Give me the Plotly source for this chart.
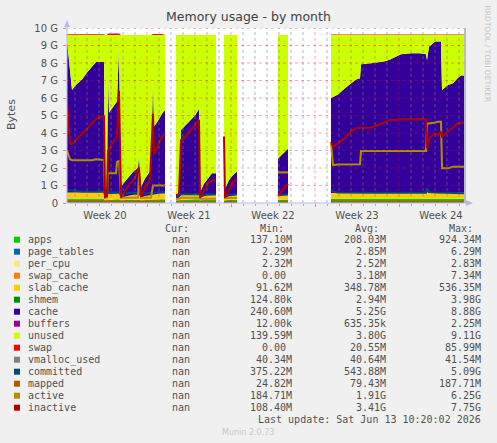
from datetime import datetime, timedelta

import plotly.graph_objects as go

# A row whose values are all None marks a stretch with no data.
times = [
    # May 11 - May 19
    "2026-05-11 08:00", "2026-05-11 14:00", "2026-05-11 18:00", "2026-05-12 02:00", "2026-05-12 14:00",
    "2026-05-13 00:00", "2026-05-13 10:00", "2026-05-13 18:00", "2026-05-14 04:00", "2026-05-14 10:00",
    "2026-05-14 12:00", "2026-05-14 16:00", "2026-05-14 18:00", "2026-05-14 20:00", "2026-05-15 02:00",
    "2026-05-15 10:00", "2026-05-15 12:00", "2026-05-15 16:00", "2026-05-15 20:00", "2026-05-16 06:00",
    "2026-05-16 14:00", "2026-05-16 22:00", "2026-05-17 06:00", "2026-05-17 08:00", "2026-05-17 12:00",
    "2026-05-17 20:00", "2026-05-18 06:00", "2026-05-18 08:00", "2026-05-18 12:00", "2026-05-18 14:00",
    "2026-05-18 22:00", "2026-05-19 06:00", "2026-05-19 12:00",
    "2026-05-20 00:00",
    # May 20 - May 23
    "2026-05-20 10:00", "2026-05-20 16:00", "2026-05-20 20:00", "2026-05-21 04:00", "2026-05-21 14:00",
    "2026-05-22 00:00", "2026-05-22 08:00", "2026-05-22 10:00", "2026-05-22 18:00", "2026-05-23 02:00",
    "2026-05-23 10:00", "2026-05-23 18:00",
    "2026-05-24 02:00",
    # May 24 - May 25
    "2026-05-24 10:00", "2026-05-24 12:00", "2026-05-24 20:00", "2026-05-25 04:00", "2026-05-25 12:00",
    "2026-05-27 00:00",
    # May 28 - May 29
    "2026-05-28 22:00", "2026-05-29 08:00", "2026-05-29 18:00",
    "2026-05-31 00:00",
    # Jun 2 - Jun 13
    "2026-06-02 08:00", "2026-06-02 12:00", "2026-06-02 22:00", "2026-06-03 12:00", "2026-06-04 00:00",
    "2026-06-04 10:00", "2026-06-04 18:00", "2026-06-04 20:00", "2026-06-05 16:00", "2026-06-06 06:00",
    "2026-06-06 20:00", "2026-06-07 06:00", "2026-06-07 20:00", "2026-06-08 04:00", "2026-06-09 00:00",
    "2026-06-09 18:00", "2026-06-10 06:00", "2026-06-10 08:00", "2026-06-10 12:00", "2026-06-11 00:00",
    "2026-06-11 06:00", "2026-06-11 12:00", "2026-06-11 14:00", "2026-06-12 02:00", "2026-06-12 12:00",
    "2026-06-12 22:00", "2026-06-13 04:00", "2026-06-13 10:00",
]

N = None

apps = [
    .22, .22, .22, .22, .23, .23, .23, .23, .22, .22, .15, .16, .20, .20, .20, .21, .21, .21, .15, .17,
    .18, .19, .19, .19, .15, .17, .18, .18, .20, .20, .21, .21, .21,
    N,
    .15, .16, .20, .20, .20, .21, .21, .15, .18, .19, .19, .19,
    N,
    .16, .15, .18, .19, .19,
    N,
    .19, .20, .20,
    N,
    .24, .24, .24, .24, .25, .25, .25, .25, .25, .25, .25, .25, .25, .25, .25, .25, .25, .25, .25, .25,
    .25, .25, .24, .24, .24, .24, .24, .24,
]
page_tables = [
    .0028, .0028, .0028, .0028, .0028, .0028, .0028, .0028, .0028, .0028, .0023, .0023, .0027, .0027,
    .0027, .0027, .0027, .0027, .0023, .0025, .0025, .0025, .0025, .0025, .0023, .0025, .0025, .0025,
    .0027, .0027, .0027, .0027, .0027,
    N,
    .0023, .0023, .0026, .0026, .0027, .0027, .0027, .0023, .0025, .0025, .0025, .0025,
    N,
    .0023, .0023, .0025, .0025, .0025,
    N,
    .0026, .0026, .0026,
    N,
    .0030, .0030, .0030, .0030, .0030, .0030, .0030, .0030, .0030, .0030, .0030, .0030, .0030, .0030,
    .0030, .0030, .0030, .0030, .0030, .0030, .0030, .0030, .0029, .0029, .0029, .0029, .0029, .0029,
]
per_cpu = [
    .0026, .0026, .0026, .0026, .0026, .0026, .0026, .0026, .0026, .0026, .0024, .0024, .0026, .0026,
    .0026, .0026, .0026, .0026, .0024, .0025, .0025, .0025, .0025, .0025, .0024, .0025, .0025, .0025,
    .0026, .0026, .0026, .0026, .0026,
    N,
    .0024, .0024, .0025, .0025, .0025, .0025, .0025, .0024, .0025, .0025, .0025, .0025,
    N,
    .0024, .0024, .0025, .0025, .0025,
    N,
    .0025, .0025, .0025,
    N,
    .0027, .0027, .0027, .0027, .0027, .0027, .0027, .0027, .0027, .0027, .0027, .0027, .0027, .0027,
    .0027, .0027, .0027, .0027, .0027, .0027, .0027, .0027, .0027, .0027, .0027, .0027, .0027, .0027,
]
swap_cache = [
    .005, .005, .005, .005, .005, .005, .005, .005, .005, .005, 0, 0, .006, .006, .006, .006, .006, .006,
    0, 0, 0, 0, 0, 0, 0, 0, 0, 0, .004, .004, .004, .004, .004,
    N,
    0, 0, 0, 0, 0, 0, 0, 0, 0, 0, 0, 0,
    N,
    0, 0, 0, 0, 0,
    N,
    0, 0, 0,
    N,
    .003, .003, .003, .003, .003, .003, .003, .003, .003, .003, .003, .003, .003, .003,
    .003, .003, .003, .003, .003, .003, .003, .003, .003, .003, .003, .003, .003, .003,
]
slab_cache = [
    .36, .36, .36, .37, .38, .37, .36, .37, .38, .38, .15, .18, .30, .30, .30, .31, .31, .32, .15, .22,
    .25, .27, .28, .28, .16, .22, .26, .27, .30, .30, .31, .32, .32,
    N,
    .12, .14, .25, .26, .27, .28, .28, .14, .20, .23, .25, .25,
    N,
    .15, .14, .20, .23, .24,
    N,
    .22, .24, .25,
    N,
    .32, .33, .33, .33, .33, .34, .34, .34, .34, .34, .35, .35, .35, .35, .35, .35, .35, .35, .36, .36,
    .36, .36, .34, .34, .34, .35, .35, .35,
]
shmem = [
    .003, .003, .003, .003, .003, .003, .003, .003, .003, .003, .001, .001, .003, .003, .003, .003, .003,
    .003, .001, .002, .002, .002, .002, .002, .001, .002, .002, .002, .003, .003, .003, .003, .003,
    N,
    .001, .001, .002, .002, .002, .002, .002, .001, .002, .002, .002, .002,
    N,
    .001, .001, .002, .002, .002,
    N,
    .002, .002, .002,
    N,
    .003, .003, .003, .003, .003, .003, .003, .003, .003, .003, .003, .003, .003, .003,
    .003, .003, .003, .003, .003, .003, .003, .003, .003, .003, .003, .003, .003, .003,
]
cache = [
    8.71, 6.81, 5.87, 6.15, 6.43, 6.84, 7.20, 7.44, 7.46, 7.46, 0.49, 0.55, 6.89, 4.64, 4.89, 5.17, 5.27,
    8.36, 0.64, 0.90, 1.16, 1.38, 1.52, 2.27, 0.58, 1.00, 1.35, 1.54, 6.49, 3.85, 4.17, 4.56, 4.77,
    N,
    0.22, 0.24, 3.71, 3.93, 4.22, 4.50, 4.87, 0.30, 0.71, 0.97, 1.25, 1.25,
    N,
    0.38, 0.50, 0.91, 1.17, 1.36,
    N,
    2.13, 2.35, 2.64,
    N,
    5.43, 5.47, 5.62, 5.97, 6.26, 6.45, 6.52, 7.32, 7.38, 7.42, 7.49, 7.59, 7.79, 7.89, 7.94, 7.94, 7.89,
    7.56, 8.31, 8.60, 8.60, 8.60, 5.87, 6.15, 6.25, 6.56, 6.68, 6.68,
]
buffers = [
    .0007, .0007, .0007, .0007, .0007, .0007, .0007, .0007, .0007, .0007, .0002, .0002, .0006, .0006,
    .0006, .0006, .0006, .0006, .0002, .0004, .0004, .0004, .0004, .0004, .0002, .0004, .0004, .0004,
    .0006, .0006, .0006, .0006, .0006,
    N,
    .0002, .0002, .0005, .0005, .0005, .0005, .0005, .0002, .0004, .0004, .0004, .0004,
    N,
    .0002, .0002, .0004, .0004, .0004,
    N,
    .0005, .0005, .0005,
    N,
    .0008, .0008, .0008, .0008, .0008, .0008, .0008, .0008, .0008, .0008, .0008, .0008, .0008, .0008,
    .0008, .0008, .0008, .0008, .0008, .0008, .0008, .0008, .0008, .0008, .0008, .0008, .0008, .0008,
]
unused = [
    0.30, 2.20, 3.14, 2.85, 2.55, 2.15, 1.80, 1.55, 1.53, 1.53, 8.80, 8.70, 2.20, 4.45, 4.20, 3.90, 3.80,
    0.70, 8.65, 8.30, 8.00, 7.75, 7.60, 6.85, 8.70, 8.20, 7.80, 7.60, 2.60, 5.24, 4.90, 4.50, 4.29,
    N,
    9.10, 9.05, 5.43, 5.20, 4.90, 4.60, 4.23, 9.00, 8.50, 8.20, 7.90, 7.90,
    N,
    8.90, 8.80, 8.30, 8.00, 7.80,
    N,
    7.05, 6.80, 6.50,
    N,
    3.60, 3.55, 3.40, 3.05, 2.75, 2.55, 2.48, 1.68, 1.62, 1.58, 1.50, 1.40, 1.20, 1.10, 1.05, 1.05, 1.10,
    1.43, 0.67, 0.38, 0.38, 0.38, 3.14, 2.86, 2.76, 2.44, 2.32, 2.32,
]
swap = [
    .04, .04, .04, .04, .04, .04, .04, .04, .04, .04, 0, 0, .08, .08, .08, .08, .08, .08, 0, 0,
    0, 0, 0, 0, 0, 0, 0, 0, .06, .06, .06, .06, 0,
    N,
    0, 0, 0, 0, 0, 0, 0, 0, 0, 0, 0, 0,
    N,
    0, 0, 0, 0, 0,
    N,
    0, 0, 0,
    N,
    .02, .02, .02, .02, .02, .02, .02, .02, .02, .02, .02, .02, .02, .02,
    .02, .02, .02, .02, .02, .02, .02, .02, .02, .02, .02, .02, .02, .02,
]
vmalloc_used = [
    .0406, .0406, .0406, .0406, .0406, .0406, .0406, .0406, .0406, .0406, .0403, .0403, .0405, .0405,
    .0405, .0405, .0405, .0405, .0403, .0404, .0404, .0404, .0404, .0404, .0403, .0404, .0404, .0404,
    .0405, .0405, .0405, .0405, .0405,
    N,
    .0403, .0403, .0405, .0405, .0405, .0405, .0405, .0403, .0404, .0404, .0404, .0404,
    N,
    .0403, .0403, .0404, .0404, .0404,
    N,
    .0404, .0404, .0404,
    N,
    .0407, .0407, .0407, .0407, .0407, .0407, .0407, .0407, .0407, .0407, .0407, .0407, .0407, .0407,
    .0407, .0407, .0407, .0407, .0407, .0407, .0407, .0407, .0407, .0407, .0407, .0407, .0407, .0407,
]
committed = [
    .75, .72, .70, .68, .66, .65, .66, .65, .64, .64, .45, .48, .60, .60, .60, .61, .61, .62, .45, .55,
    .58, .60, .60, .60, .47, .55, .58, .58, .62, .62, .62, .63, .63,
    N,
    .40, .42, .50, .50, .51, .52, .52, .42, .48, .50, .50, .50,
    N,
    .45, .42, .48, .50, .50,
    N,
    .46, .47, .48,
    N,
    .72, .66, .60, .59, .59, .59, .59, .59, .59, .59, .59, .59, .59, .59, .59, .59, .59, .85, .62, .60,
    .60, .60, .56, .56, .56, .56, .56, .56,
]
mapped = [
    .09, .09, .09, .09, .09, .09, .09, .09, .09, .09, .05, .05, .08, .08, .08, .08, .08, .08, .05, .06,
    .06, .06, .06, .06, .05, .06, .06, .06, .07, .07, .07, .07, .07,
    N,
    .05, .05, .06, .06, .06, .06, .06, .05, .05, .06, .06, .06,
    N,
    .05, .05, .05, .06, .06,
    N,
    .06, .06, .06,
    N,
    .07, .07, .07, .07, .07, .07, .07, .07, .07, .07, .07, .07, .07, .07, .07, .07, .07, .08, .08, .08,
    .08, .08, .07, .07, .07, .07, .07, .07,
]
active = [
    3.00, 2.50, 2.45, 2.45, 2.45, 2.45, 2.45, 2.50, 2.45, 2.45, 0.30, 0.30, 1.70, 1.70, 1.70, 1.70, 2.35,
    2.40, 0.30, 0.30, 0.30, 0.30, 0.30, 1.70, 0.30, 0.30, 0.30, 0.30, 1.00, 1.00, 1.00, 1.00, 1.00,
    N,
    0.25, 0.25, 0.30, 0.30, 0.30, 0.30, 0.30, 0.25, 0.25, 0.25, 0.25, 0.25,
    N,
    0.30, 0.28, 0.28, 0.28, 0.28,
    N,
    1.75, 1.75, 1.75,
    N,
    3.40, 2.17, 2.20, 2.20, 2.22, 2.22, 2.22, 2.97, 2.97, 2.97, 2.97, 2.97, 2.97, 2.97, 2.97, 2.97, 2.97,
    4.55, 4.55, 4.60, 4.65, 4.65, 1.98, 1.98, 2.07, 2.07, 2.07, 2.07,
]
inactive = [
    5.80, 3.40, 3.35, 3.60, 3.95, 4.30, 4.55, 4.80, 4.95, 4.95, 0.35, 0.40, 3.00, 3.05, 3.40, 3.70, 3.85,
    6.40, 0.30, 0.80, 1.10, 1.30, 1.95, 2.00, 0.35, 0.90, 1.30, 2.50, 5.10, 2.80, 3.30, 3.80, 3.90,
    N,
    0.45, 0.50, 3.60, 3.75, 4.10, 4.50, 4.75, 0.30, 0.70, 1.10, 1.30, 1.30,
    N,
    3.80, 0.30, 0.75, 1.20, 1.37,
    N,
    0.40, 0.75, 1.10,
    N,
    3.50, 3.22, 3.41, 3.70, 4.08, 4.27, 4.30, 4.30, 4.30, 4.46, 4.65, 4.74, 4.76, 4.78, 4.78, 4.78, 4.78,
    3.12, 3.70, 3.98, 3.88, 4.08, 3.79, 4.08, 4.30, 4.55, 4.59, 4.59,
]

y_tick_labels = ["0", "1 G", "2 G", "3 G", "4 G", "5 G", "6 G", "7 G", "8 G", "9 G", "10 G"]

legend_cur = ["nan"] * 15
legend_min = ["137.10M", "2.29M", "2.32M", "0.00\u00a0", "91.62M", "124.80k", "240.60M", "12.00k",
              "139.59M", "0.00\u00a0", "40.34M", "375.22M", "24.82M", "184.71M", "108.40M"]
legend_avg = ["208.03M", "2.85M", "2.52M", "3.18M", "348.78M", "2.94M", "5.25G", "635.35k",
              "3.80G", "20.55M", "40.64M", "543.88M", "79.43M", "1.91G", "3.41G"]
legend_max = ["924.34M", "6.29M", "2.83M", "7.34M", "536.35M", "3.98G", "8.88G", "2.25M",
              "9.11G", "85.99M", "41.54M", "5.09G", "187.71M", "6.25G", "7.75G"]

stacked = [
    ("apps", apps, "#00CC00"),
    ("page_tables", page_tables, "#0066B3"),
    ("per_cpu", per_cpu, "#FFE680"),
    ("swap_cache", swap_cache, "#FF8000"),
    ("slab_cache", slab_cache, "#FFCC00"),
    ("shmem", shmem, "#008F00"),
    ("cache", cache, "#330099"),
    ("buffers", buffers, "#990099"),
    ("unused", unused, "#CCFF00"),
    ("swap", swap, "#FF0000"),
]
lines = [
    ("vmalloc_used", vmalloc_used, "#808080"),
    ("committed", committed, "#00487D"),
    ("mapped", mapped, "#B35A00"),
    ("active", active, "#B38F00"),
    ("inactive", inactive, "#B30000"),
]

FONT = "DejaVu Sans"
MONO = "DejaVu Sans Mono"
TEXT = "#505050"
AXIS = "#B8B8EE"
W, H = 497, 443
L, R, T, B = 67, 465, 28, 203  # plot area, pixels
X_RANGE = ["2026-05-11 08:00", "2026-06-13 12:00"]


def xp(px):
    return (px - L) / (R - L)


def yp(py):
    return (B - py) / (B - T)


def runs():
    # contiguous stretches of rows holding data
    out, cur = [], []
    for i, v in enumerate(cache):
        if v is None:
            if cur:
                out.append(cur)
            cur = []
        else:
            cur.append(i)
    if cur:
        out.append(cur)
    return out


fig = go.Figure()

for k, idx in enumerate(runs()):
    for name, vals, color in stacked:
        fig.add_trace(go.Scatter(
            x=[times[i] for i in idx], y=[vals[i] for i in idx],
            name=name, stackgroup=f"seg{k}", mode="lines",
            line=dict(width=0, color=color), fillcolor=color,
            showlegend=False, hoverinfo="skip",
        ))

for name, vals, color in lines:
    fig.add_trace(go.Scatter(
        x=times, y=vals, name=name, mode="lines", connectgaps=False,
        line=dict(width=2, color=color), showlegend=False, hoverinfo="skip",
    ))

# grid on top of the areas, like rrdtool draws it
shapes = []
minor = dict(color="rgba(130,130,130,0.55)", width=1, dash="dot")
major = dict(color="rgba(255,0,0,0.35)", width=1, dash="dot")
for d in range(33):
    day = datetime(2026, 5, 12) + timedelta(days=d)
    shapes.append(dict(type="line", xref="x", yref="paper", x0=day, x1=day, y0=0, y1=1,
                       line=major if day.weekday() == 0 else minor, layer="above"))
for g in range(1, 11):
    shapes.append(dict(type="line", xref="paper", yref="y", x0=0, x1=1, y0=g, y1=g,
                       line=major, layer="above"))

# right edge, axis lines and arrow heads
shapes.append(dict(type="line", xref="paper", yref="paper", x0=1, x1=1, y0=0, y1=1,
                   line=dict(color="#A8A8A8", width=1.5), layer="above"))
shapes.append(dict(type="line", xref="paper", yref="paper", x0=0, x1=xp(468), y0=0, y1=0,
                   line=dict(color=AXIS, width=1), layer="above"))
shapes.append(dict(type="line", xref="paper", yref="paper", x0=0, x1=0, y0=0, y1=yp(24),
                   line=dict(color=AXIS, width=1), layer="above"))
shapes.append(dict(type="path", xref="paper", yref="paper", layer="above",
                   path=f"M {xp(466):.4f} {yp(200):.4f} L {xp(473):.4f} {yp(203):.4f} "
                        f"L {xp(466):.4f} {yp(206):.4f} Z",
                   fillcolor=AXIS, line=dict(width=0)))
shapes.append(dict(type="path", xref="paper", yref="paper", layer="above",
                   path=f"M {xp(64):.4f} {yp(27):.4f} L {xp(67):.4f} {yp(20):.4f} "
                        f"L {xp(70):.4f} {yp(27):.4f} Z",
                   fillcolor=AXIS, line=dict(width=0)))


def text(s, x, y, anchor="left", font=MONO, size=10, color=TEXT, angle=0):
    fig.add_annotation(x=xp(x), y=yp(y), xref="paper", yref="paper", text=s, showarrow=False,
                       xanchor=anchor, yanchor="middle", textangle=angle,
                       font=dict(family=font, size=size, color=color))


text("Memory usage - by month", 248.5, 17, "center", FONT, 12.5, "#404040")
text("Bytes", 11, 115, "center", FONT, 11, TEXT, -90)
text("RRDTOOL / TOBI OETIKER", 487.5, 54, "center", FONT, 7.5, "#C4C4C4", 90)

text("Cur:", 163, 228)
text("Min:", 258, 228)
text("Avg:", 352.7, 228)
text("Max:", 446.7, 228)

for i, (name, _, color) in enumerate(stacked + lines):
    py = 239.7 + 12 * i
    shapes.append(dict(type="rect", xref="paper", yref="paper", x0=xp(14), x1=xp(20),
                       y0=yp(py + 3), y1=yp(py - 3), fillcolor=color, line=dict(width=0)))
    text(name, 26.3, py)
    text(legend_cur[i], 192.3, py, "right")
    text(legend_min[i], 294, py, "right")
    text(legend_avg[i], 387.7, py, "right")
    text(legend_max[i], 482.7, py, "right")

text("Last update: Sat Jun 13 10:20:02 2026", 482.7, 419.5, "right")
text("Munin 2.0.73", 247.7, 432, "center", FONT, 8, "#C8C8C8")

fig.update_layout(
    width=W, height=H,
    margin=dict(l=L, r=W - R, t=T, b=H - B, pad=0),
    paper_bgcolor="#F0F0F0", plot_bgcolor="#FFFFFF",
    shapes=shapes, showlegend=False,
)
fig.update_xaxes(
    type="date", range=X_RANGE, tick0="2026-05-11", dtick=7 * 86400000,
    ticklabelmode="period", tickformat="Week %V",
    showgrid=False, zeroline=False, showline=False, fixedrange=True,
    ticks="outside", ticklen=3, tickcolor="rgba(255,0,0,0.45)",
    minor=dict(tick0="2026-05-11", dtick=86400000, ticks="outside", ticklen=2,
               tickcolor="rgba(130,130,130,0.6)", showgrid=False),
    tickfont=dict(family=FONT, size=10, color=TEXT),
)
fig.update_yaxes(
    range=[0, 10], tickvals=list(range(11)), ticktext=y_tick_labels,
    showgrid=False, zeroline=False, showline=False, fixedrange=True,
    ticks="outside", ticklen=3, tickcolor="rgba(255,0,0,0.45)", ticklabelstandoff=3,
    tickfont=dict(family=FONT, size=10, color=TEXT),
)

# the page's default body margin would push the 497x443 figure off the window
fig.write_html("out.html", post_script="document.body.style.margin = '0';",
               config={"displayModeBar": False})
